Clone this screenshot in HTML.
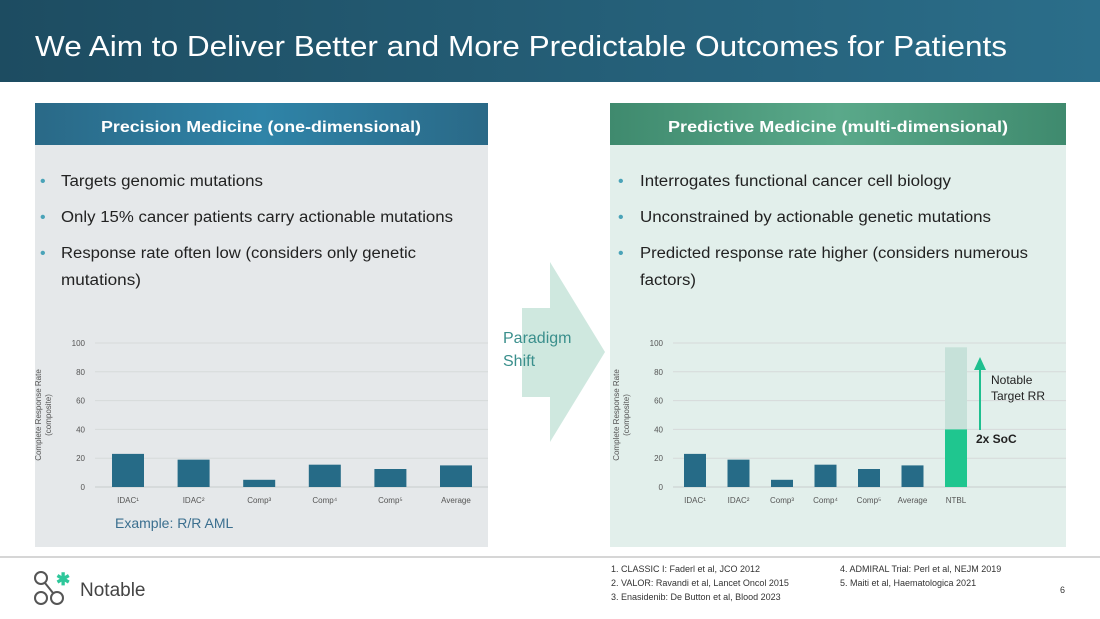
<!DOCTYPE html>
<html><head><meta charset="utf-8"><style>
html,body{margin:0;padding:0;background:#fff}
svg{display:block;font-family:"Liberation Sans",sans-serif}
</style></head><body>
<svg width="1100" height="619" viewBox="0 0 1100 619" xmlns="http://www.w3.org/2000/svg">
<defs>
<linearGradient id="hg" x1="0" x2="1"><stop offset="0" stop-color="#1d4c61"/><stop offset="1" stop-color="#2b6e8a"/></linearGradient>
<linearGradient id="lh" x1="0" x2="1"><stop offset="0" stop-color="#2a6987"/><stop offset="0.5" stop-color="#2f84a8"/><stop offset="1" stop-color="#2a6987"/></linearGradient>
<linearGradient id="rh" x1="0" x2="1"><stop offset="0" stop-color="#3f8a6e"/><stop offset="0.5" stop-color="#5aa98a"/><stop offset="1" stop-color="#3f8a6e"/></linearGradient>
</defs>
<rect x="0" y="0" width="1100" height="82" fill="url(#hg)"/>
<text x="35" y="56" font-size="29" fill="#fff" textLength="972" lengthAdjust="spacingAndGlyphs">We Aim to Deliver Better and More Predictable Outcomes for Patients</text>

<rect x="35" y="103" width="453" height="444" fill="#e5e8ea"/>
<rect x="35" y="103" width="453" height="42" fill="url(#lh)"/>
<text x="261" y="132" font-size="16" font-weight="bold" fill="#fff" text-anchor="middle" textLength="320" lengthAdjust="spacingAndGlyphs">Precision Medicine (one-dimensional)</text>
<g font-size="15.5" fill="#222">
<text x="40" y="186" fill="#4aa3b8" font-size="16">•</text><text x="61" y="186" textLength="202" lengthAdjust="spacingAndGlyphs">Targets genomic mutations</text>
<text x="40" y="222" fill="#4aa3b8" font-size="16">•</text><text x="61" y="222" textLength="392" lengthAdjust="spacingAndGlyphs">Only 15% cancer patients carry actionable mutations</text>
<text x="40" y="258" fill="#4aa3b8" font-size="16">•</text><text x="61" y="258" textLength="355" lengthAdjust="spacingAndGlyphs">Response rate often low (considers only genetic</text>
<text x="61" y="285" textLength="80" lengthAdjust="spacingAndGlyphs">mutations)</text>
</g>
<text x="115" y="528" font-size="14" fill="#3b6f8f">Example: R/R AML</text>

<rect x="610" y="103" width="456" height="444" fill="#e2efeb"/>
<rect x="610" y="103" width="456" height="42" fill="url(#rh)"/>
<text x="838" y="132" font-size="16" font-weight="bold" fill="#fff" text-anchor="middle" textLength="340" lengthAdjust="spacingAndGlyphs">Predictive Medicine (multi-dimensional)</text>
<g font-size="15.5" fill="#222">
<text x="618" y="186" fill="#4aa3b8" font-size="16">•</text><text x="640" y="186" textLength="311" lengthAdjust="spacingAndGlyphs">Interrogates functional cancer cell biology</text>
<text x="618" y="222" fill="#4aa3b8" font-size="16">•</text><text x="640" y="222" textLength="351" lengthAdjust="spacingAndGlyphs">Unconstrained by actionable genetic mutations</text>
<text x="618" y="258" fill="#4aa3b8" font-size="16">•</text><text x="640" y="258" textLength="388" lengthAdjust="spacingAndGlyphs">Predicted response rate higher (considers numerous</text>
<text x="640" y="285" textLength="56" lengthAdjust="spacingAndGlyphs">factors)</text>
</g>

<polygon points="522,308 550,308 550,262 605,352 550,442 550,397 522,397" fill="#cfe8df"/>
<text x="503" y="343" font-size="16" fill="#3a8f8c">Paradigm</text>
<text x="503" y="366" font-size="16" fill="#3a8f8c">Shift</text>

<g id="leftChart"></g>
<g id="rightChart"></g>

<line x1="980" y1="430" x2="980" y2="362" stroke="#1fbf8f" stroke-width="2"/>
<polygon points="974,370 980,357 986,370" fill="#1fbf8f"/>
<text x="991" y="384" font-size="12" fill="#222">Notable</text>
<text x="991" y="400" font-size="12" fill="#222">Target RR</text>
<text x="976" y="443" font-size="12" font-weight="bold" fill="#222">2x SoC</text>

<line x1="0" y1="557" x2="1100" y2="557" stroke="#c8c8c8" stroke-width="1.5"/>
<g fill="none" stroke="#555" stroke-width="2">
<circle cx="41" cy="578" r="6"/><circle cx="41" cy="598" r="6"/><circle cx="57" cy="598" r="6"/>
<line x1="45" y1="583" x2="53" y2="593"/>
</g>
<text x="56" y="585" font-size="17" font-weight="bold" fill="#2ec79a">✱</text>
<text x="80" y="596" font-size="19" fill="#444">Notable</text>
<g font-size="9" fill="#333">
<text x="611" y="572">1. CLASSIC I: Faderl et al, JCO 2012</text>
<text x="611" y="586">2. VALOR: Ravandi et al, Lancet Oncol 2015</text>
<text x="611" y="600">3. Enasidenib: De Button et al, Blood 2023</text>
<text x="840" y="572">4. ADMIRAL Trial: Perl et al, NEJM 2019</text>
<text x="840" y="586">5. Maiti et al, Haematologica 2021</text>
</g>
<text x="1060" y="593" font-size="9" fill="#333">6</text>
</svg>
<script>
const leftCats=["IDAC¹","IDAC²","Comp³","Comp⁴","Comp⁵","Average"];
const leftVals=[23,19,5,15.5,12.5,15];
const rightCats=["IDAC¹","IDAC²","Comp³","Comp⁴","Comp⁵","Average","NTBL"];
const rightVals=[23,19,5,15.5,12.5,15,40];
const ntblTarget=97;
const yTicks=[0,20,40,60,80,100];
const NS="http://www.w3.org/2000/svg";
function mk(tag,attrs,parent,txt){const e=document.createElementNS(NS,tag);for(const k in attrs)e.setAttribute(k,attrs[k]);if(txt!=null)e.textContent=txt;parent.appendChild(e);return e;}
function drawChart(g,cats,vals,opt){
  const y=v=>opt.y0-(v/100)*(opt.y0-opt.y100);
  const x=i=>opt.c0+i*opt.step;
  yTicks.forEach(t=>{
    const l=mk('line',{x1:opt.gx0,x2:opt.gx1,y1:y(t),y2:y(t),stroke:t===0?'#c8cccc':'#d6dada','stroke-width':1},g);
    
    
    const tt=mk('text',{x:opt.gx0-10,y:y(t)+3,'font-size':8,fill:'#555','text-anchor':'end'},g,String(t));
    
    
  });
  const at=mk('text',{transform:`translate(${opt.ax},415) rotate(-90)`,'font-size':8,fill:'#555','text-anchor':'middle'},g);
  
  
  mk('tspan',{x:0,dy:-5},at,'Complete Response Rate');
  mk('tspan',{x:0,dy:10},at,'(composite)');
  cats.forEach((c,i)=>{
    if(opt.target!=null && i===cats.length-1){
      const tb=mk('rect',{x:x(i)-opt.bw/2,y:y(opt.target),width:opt.bw,height:y(0)-y(opt.target),fill:'#c6e1d9'},g);
      
      
    }
    const isN=opt.target!=null && i===cats.length-1;
    const b=mk('rect',{x:x(i)-opt.bw/2,y:y(vals[i]),width:opt.bw,height:y(0)-y(vals[i]),fill:isN?'#1fc68f':'#266b87'},g);
    
    
    const lb=mk('text',{x:x(i),y:503,'font-size':8,fill:'#555','text-anchor':'middle'},g,c);
    
    
  });
}
drawChart(document.getElementById('leftChart'),leftCats,leftVals,{y0:487,y100:343,c0:128,step:65.6,bw:32,gx0:95,gx1:488,ax:46});
drawChart(document.getElementById('rightChart'),rightCats,rightVals,{y0:487,y100:343,c0:695,step:43.5,bw:22,gx0:673,gx1:1066,ax:624,target:ntblTarget});
</script>
</body></html>
